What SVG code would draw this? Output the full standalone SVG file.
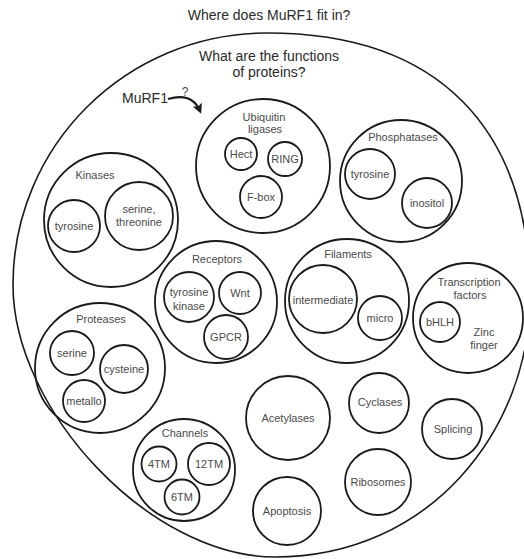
<svg xmlns="http://www.w3.org/2000/svg" width="524" height="559" viewBox="0 0 524 559">
<style>
  .c { fill: none; stroke: #1a1a1a; stroke-width: 1.8; }
  .o { fill: none; stroke: #1a1a1a; stroke-width: 1.6; }
  text { font-family: "Liberation Sans", Arial, sans-serif; text-anchor: middle; }
  .t { font-size: 14px; fill: #2a2a2a; }
  .l { font-size: 11px; fill: #4a4a4a; }
  .a { fill: none; stroke: #1a1a1a; stroke-width: 2.2; }
</style>
<defs>
  <marker id="head" viewBox="0 0 10 10" refX="7" refY="5" markerWidth="4.5" markerHeight="4.5" orient="auto" markerUnits="strokeWidth">
    <path d="M0,0 L10,5 L0,10 L2,5 Z" fill="#1a1a1a"/>
  </marker>
</defs>
<rect width="524" height="559" fill="#ffffff"/>
<text class="t" x="269" y="20">Where does MuRF1 fit in?</text>

<g id="proteins">
  <path class="o" d="M267,33 C440,33 530,130 530,296 C530,430 430,557 275,557 C150,557 13,410 13,285 C13,145 127,33 267,33 Z"/>
  <text class="t" x="269" y="61">What are the functions</text>
  <text class="t" x="269" y="77">of proteins?</text>
</g>

<g id="murf1">
  <text class="t" x="145" y="103">MuRF1</text>
  <text class="l" x="185" y="96" style="font-size:12px">?</text>
</g>

<g id="ubiquitin">
  <circle class="c" cx="263" cy="166" r="67"/>
  <text class="l" x="264" y="121">Ubiquitin</text>
  <text class="l" x="265" y="133">ligases</text>
  <g id="hect"><circle class="c" cx="241" cy="154" r="16"/><text class="l" x="241" y="158">Hect</text></g>
  <g id="ring"><circle class="c" cx="285" cy="159" r="17"/><text class="l" x="285" y="163">RING</text></g>
  <g id="fbox"><circle class="c" cx="261" cy="197" r="21"/><text class="l" x="261" y="201">F-box</text></g>
</g>

<g id="phosphatases">
  <circle class="c" cx="401" cy="181" r="61"/>
  <text class="l" x="403" y="141">Phosphatases</text>
  <g id="ph-tyrosine"><circle class="c" cx="370" cy="174" r="25"/><text class="l" x="370" y="178">tyrosine</text></g>
  <g id="ph-inositol"><circle class="c" cx="427" cy="203" r="25"/><text class="l" x="427" y="207">inositol</text></g>
</g>

<g id="kinases">
  <circle class="c" cx="111" cy="220" r="67"/>
  <text class="l" x="95" y="179">Kinases</text>
  <g id="k-tyrosine"><circle class="c" cx="74" cy="226" r="26"/><text class="l" x="74" y="230">tyrosine</text></g>
  <g id="k-serine"><circle class="c" cx="139" cy="216" r="34"/><text class="l" x="139" y="213">serine,</text><text class="l" x="139" y="226">threonine</text></g>
</g>

<g id="receptors">
  <circle class="c" cx="216" cy="302" r="61"/>
  <text class="l" x="217" y="263">Receptors</text>
  <g id="r-tyrosine"><circle class="c" cx="189" cy="297" r="25"/><text class="l" x="189" y="296">tyrosine</text><text class="l" x="189" y="310">kinase</text></g>
  <g id="r-wnt"><circle class="c" cx="240" cy="293" r="21"/><text class="l" x="240" y="297">Wnt</text></g>
  <g id="r-gpcr"><circle class="c" cx="226" cy="337" r="22"/><text class="l" x="226" y="341">GPCR</text></g>
</g>

<g id="filaments">
  <circle class="c" cx="347" cy="301" r="62"/>
  <text class="l" x="348" y="258">Filaments</text>
  <g id="f-intermediate"><circle class="c" cx="323" cy="299" r="34"/><text class="l" x="323" y="304">intermediate</text></g>
  <g id="f-micro"><circle class="c" cx="380" cy="318" r="22"/><text class="l" x="380" y="322">micro</text></g>
</g>

<g id="transcription">
  <circle class="c" cx="468" cy="318" r="55"/>
  <text class="l" x="469" y="286">Transcription</text>
  <text class="l" x="470" y="299">factors</text>
  <g id="t-bhlh"><circle class="c" cx="440" cy="322" r="20"/><text class="l" x="440" y="326">bHLH</text></g>
  <text class="l" x="484" y="336">Zinc</text>
  <text class="l" x="484" y="349">finger</text>
</g>

<g id="proteases">
  <circle class="c" cx="100" cy="368" r="65"/>
  <text class="l" x="101" y="323">Proteases</text>
  <g id="p-serine"><circle class="c" cx="72" cy="353" r="22"/><text class="l" x="72" y="357">serine</text></g>
  <g id="p-cysteine"><circle class="c" cx="124" cy="369" r="24"/><text class="l" x="124" y="373">cysteine</text></g>
  <g id="p-metallo"><circle class="c" cx="84" cy="401" r="21"/><text class="l" x="84" y="405">metallo</text></g>
</g>

<g id="channels">
  <circle class="c" cx="184" cy="470" r="51"/>
  <text class="l" x="185" y="437">Channels</text>
  <g id="ch-4tm"><circle class="c" cx="159" cy="464" r="17.5"/><text class="l" x="159" y="468">4TM</text></g>
  <g id="ch-12tm"><circle class="c" cx="209" cy="464" r="21"/><text class="l" x="209" y="468">12TM</text></g>
  <g id="ch-6tm"><circle class="c" cx="182" cy="497" r="17.5"/><text class="l" x="182" y="501">6TM</text></g>
</g>

<g id="acetylases"><circle class="c" cx="288" cy="418" r="42"/><text class="l" x="288" y="422">Acetylases</text></g>
<g id="cyclases"><circle class="c" cx="379" cy="403" r="30"/><text class="l" x="380" y="406">Cyclases</text></g>
<g id="splicing"><circle class="c" cx="452" cy="429" r="30"/><text class="l" x="453" y="433">Splicing</text></g>
<g id="ribosomes"><circle class="c" cx="378" cy="482" r="33"/><text class="l" x="378" y="486">Ribosomes</text></g>
<g id="apoptosis"><circle class="c" cx="287" cy="511" r="34"/><text class="l" x="287" y="515">Apoptosis</text></g>

<g id="connectors">
  <path class="a" d="M168,99 Q192,92 200,111" marker-end="url(#head)"/>
</g>
</svg>
